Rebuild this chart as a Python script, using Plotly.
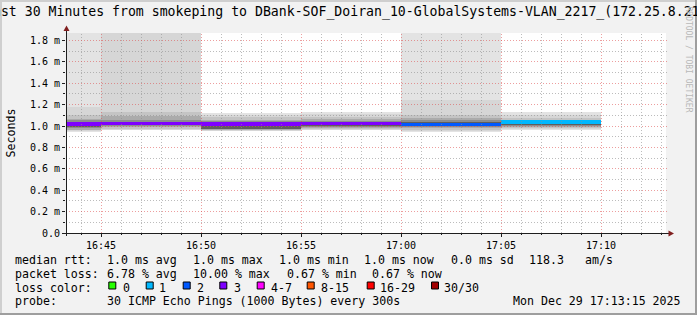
import plotly.graph_objects as go
from datetime import datetime, timedelta

# ---------------- data ----------------
segment_start = ["2025-12-29 16:40:00", "2025-12-29 16:45:00", "2025-12-29 16:50:00",
                 "2025-12-29 16:55:00", "2025-12-29 17:00:00", "2025-12-29 17:05:00"]
step_seconds = 300
median_rtt = [1.020, 1.027, 1.019, 1.021, 1.017, 1.037]   # ms
lost_pings = [3, 3, 3, 3, 2, 1]

# smoke bands (outer -> inner), ms
smoke1_low  = [0.942, 0.962, 0.955, 0.960, 0.945, 0.962]
smoke1_high = [3.000, 3.000, 1.125, 1.130, 3.000, 1.130]
smoke2_low  = [0.950, 0.966, 0.958, 0.966, 0.955, 0.968]
smoke2_high = [1.175, 3.000, 1.100, 1.110, 1.240, 1.100]
smoke3_low  = [0.960, 0.975, 0.962, 0.975, 0.965, 0.978]
smoke3_high = [1.100, 1.130, 1.080, 1.085, 1.100, 1.075]
smoke4_low  = [0.966, 0.988, 0.965, 0.985, 0.978, 0.990]
smoke4_high = [1.062, 1.090, 1.060, 1.065, 1.075, 1.060]
smoke5_low  = [0.985, 0.998, 0.968, 0.993, 0.988, 0.998]
smoke5_high = [1.053, 1.055, 1.045, 1.050, 1.055, 1.050]
smoke6_low  = [0.992, 1.008, 0.975, 1.000, 0.998, 1.006]
smoke6_high = [1.040, 1.042, 1.032, 1.036, 1.040, 1.046]

x_range = ["2025-12-29 16:43:15", "2025-12-29 17:13:15"]
x_tick_times = ["2025-12-29 16:45", "2025-12-29 16:50", "2025-12-29 16:55",
                "2025-12-29 17:00", "2025-12-29 17:05", "2025-12-29 17:10"]
x_tick_labels = ["16:45", "16:50", "16:55", "17:00", "17:05", "17:10"]
y_tick_values = [0.0, 0.2, 0.4, 0.6, 0.8, 1.0, 1.2, 1.4, 1.6, 1.8]
y_tick_labels = ["0.0", "0.2 m", "0.4 m", "0.6 m", "0.8 m", "1.0 m", "1.2 m", "1.4 m", "1.6 m", "1.8 m"]

loss_labels = ["0", "1", "2", "3", "4-7", "8-15", "16-29", "30/30"]
loss_colors = ["#26ff00", "#00b8ff", "#0059ff", "#7e00ff", "#ff00ff", "#ff5500", "#ff0000", "#a10000"]
loss_min = [0, 1, 2, 3, 4, 8, 16, 30]

title_text = "Last 30 Minutes from smokeping to DBank-SOF_Doiran_10-GlobalSystems-VLAN_2217_(172.25.8.21)"
rtt_row = ["median rtt:", "1.0 ms avg", "1.0 ms max", "1.0 ms min", "1.0 ms now", "0.0 ms sd", "118.3", "am/s"]
loss_row = ["packet loss:", "6.78 % avg", "10.00 % max", "0.67 % min", "0.67 % now"]
probe_row = ["probe:", "30 ICMP Echo Pings (1000 Bytes) every 300s"]
date_text = "Mon Dec 29 17:13:15 2025"

# ---------------- style / layout ----------------
W, H = 697, 315
ML, MR, MT, MB = 66, 31, 33, 82
PW, PH = W - ML - MR, H - MT - MB
Y_MAX = 1.870
MONO = "DejaVu Sans Mono"
SMOKE_COLORS = ["#e3e3e3", "#d6d6d6", "#c4c4c4", "#ababab", "#8c8c8c", "#5e5e5e"]
MEDIAN_W = 0.030
AXIS_COL = "#1f1f1f"
ARROW_COL = "#801f1f"


def pxx(px):
    return (px - ML) / PW


def pxy(py):
    return (MT + PH - py) / PH


def loss_color(n):
    idx = 0
    for i, m in enumerate(loss_min):
        if n >= m:
            idx = i
    return loss_colors[idx]


fig = go.Figure()
step_ms = step_seconds * 1000
bands = [(smoke1_low, smoke1_high), (smoke2_low, smoke2_high), (smoke3_low, smoke3_high),
         (smoke4_low, smoke4_high), (smoke5_low, smoke5_high), (smoke6_low, smoke6_high)]
for (lo, hi), col in zip(bands, SMOKE_COLORS):
    fig.add_trace(go.Bar(
        x=segment_start, base=lo, y=[h - l for l, h in zip(lo, hi)],
        width=[step_ms] * len(segment_start), offset=0,
        marker=dict(color=col, line=dict(width=0)), hoverinfo="skip", showlegend=False))

fig.add_trace(go.Bar(
    x=segment_start, base=[m - MEDIAN_W / 2 for m in median_rtt], y=[MEDIAN_W] * len(median_rtt),
    width=[step_ms] * len(segment_start), offset=0,
    marker=dict(color=[loss_color(n) for n in lost_pings], line=dict(width=0)),
    hoverinfo="skip", showlegend=False))

shapes = []
# grid (rrdtool draws it over the graph)
t0 = datetime.strptime(x_range[0], "%Y-%m-%d %H:%M:%S")
t1 = datetime.strptime(x_range[1], "%Y-%m-%d %H:%M:%S")
px_per_min = PW / ((t1 - t0).total_seconds() / 60)
major_times = [datetime.strptime(t, "%Y-%m-%d %H:%M") for t in x_tick_times]
t = t0.replace(second=0) + timedelta(minutes=1)
while t < t1:
    px = int(ML + (t - t0).total_seconds() / 60 * px_per_min) + 0.5
    major = t in major_times
    shapes.append(dict(type="line", xref="paper", yref="paper", x0=pxx(px), x1=pxx(px), y0=0, y1=1,
                       line=dict(color="rgba(222,79,79,0.55)" if major else "rgba(143,143,143,0.6)",
                                 width=1, dash="1px,2px"), layer="above"))
    t += timedelta(minutes=1)
k = PH / Y_MAX
for i in range(1, 19):
    v = i * 0.1
    py = int(MT + PH - v * k) + 0.5
    major = (i % 2 == 0)
    shapes.append(dict(type="line", xref="paper", yref="paper", x0=0, x1=pxx(669), y0=pxy(py), y1=pxy(py),
                       line=dict(color="rgba(222,79,79,0.55)" if major else "rgba(143,143,143,0.6)",
                                 width=1, dash="1px,2px"), layer="above"))
# axes with arrows
shapes.append(dict(type="line", xref="paper", yref="paper", x0=pxx(63), x1=pxx(669), y0=pxy(233.5), y1=pxy(233.5),
                   line=dict(color=AXIS_COL, width=1), layer="above"))
shapes.append(dict(type="line", xref="paper", yref="paper", x0=pxx(66.5), x1=pxx(66.5), y0=pxy(236), y1=pxy(30),
                   line=dict(color=AXIS_COL, width=1), layer="above"))


def tri(pts):
    d = "M " + " L ".join(f"{pxx(x)},{pxy(y)}" for x, y in pts) + " Z"
    return dict(type="path", xref="paper", yref="paper", path=d, fillcolor=ARROW_COL,
                line=dict(width=0), layer="above")


shapes.append(tri([(668.5, 230.5), (668.5, 236.5), (674, 233.5)]))
shapes.append(tri([(63.5, 31), (69.5, 31), (66.5, 25.5)]))
# frame shading
shapes += [
    dict(type="rect", xref="paper", yref="paper", x0=pxx(0), x1=pxx(W), y0=pxy(0), y1=pxy(2),
         fillcolor="#cfcfcf", line=dict(width=0), layer="below"),
    dict(type="rect", xref="paper", yref="paper", x0=pxx(0), x1=pxx(2), y0=pxy(0), y1=pxy(H),
         fillcolor="#cfcfcf", line=dict(width=0), layer="below"),
    dict(type="rect", xref="paper", yref="paper", x0=pxx(695), x1=pxx(W), y0=pxy(0), y1=pxy(H),
         fillcolor="#9e9e9e", line=dict(width=0), layer="below"),
    dict(type="rect", xref="paper", yref="paper", x0=pxx(0), x1=pxx(W), y0=pxy(313), y1=pxy(H),
         fillcolor="#9e9e9e", line=dict(width=0), layer="below"),
]

annotations = []


def ann(text, px, py, size=11.6, xanchor="left", angle=0, color="#000000"):
    annotations.append(dict(text=text, x=pxx(px), y=pxy(py), xref="paper", yref="paper",
                            xanchor=xanchor, yanchor="middle", showarrow=False, textangle=angle,
                            borderpad=0, borderwidth=0,
                            font=dict(family=MONO, size=size, color=color)))


ann(title_text, -14.9, 11.5, size=13.2)
ann("Seconds", 10.5, 133, size=11.6, xanchor="center", angle=-90)
ann("RRDTOOL / TOBI OETIKER", 688, 59.5, size=8, xanchor="center", angle=90, color="#b8b8b8")

rtt_x = [16, 107.3, 194, 279.3, 365, 451.7, 530, 586]
for txt, x in zip(rtt_row, rtt_x):
    ann(txt, x - 0.7, 259.5)
loss_x = [16, 107.3, 194, 287.3, 372.7]
for txt, x in zip(loss_row, loss_x):
    ann(txt, x - 0.7, 273.5)
ann("loss color:", 15.3, 287.5)
box_x = [108.3, 145.7, 182.7, 219.3, 256.7, 306.7, 366.7, 431]
lab_x = [123.3, 160, 197.3, 235, 271.7, 321.7, 380.7, 445]
for lab, col, bx, lx in zip(loss_labels, loss_colors, box_x, lab_x):
    shapes.append(dict(type="rect", xref="paper", yref="paper", x0=pxx(bx + 0.5), x1=pxx(bx + 7.5),
                       y0=pxy(282), y1=pxy(289), fillcolor=col, line=dict(color="#000000", width=1),
                       layer="above"))
    ann(lab, lx - 0.7, 287.5)
ann(probe_row[0], 15.3, 301)
ann(probe_row[1], 106.6, 301)
ann(date_text, 680.5, 301, xanchor="right")

fig.update_layout(
    width=W, height=H, margin=dict(l=ML, r=MR, t=MT, b=MB, pad=0),
    paper_bgcolor="#f2f2f2", plot_bgcolor="#ffffff",
    barmode="overlay", bargap=0, showlegend=False,
    font=dict(family=MONO, size=10, color="#000000"),
    shapes=shapes, annotations=annotations,
    xaxis=dict(type="date", range=x_range, tickvals=x_tick_times, ticktext=x_tick_labels,
               ticks="outside", ticklen=3, tickcolor=AXIS_COL, tickwidth=1,
               showgrid=False, zeroline=False, showline=False, automargin=False,
               tickfont=dict(family=MONO, size=10, color="#000000"),
               minor=dict(ticks="outside", ticklen=1, tickcolor=AXIS_COL, dtick=60000, showgrid=False)),
    yaxis=dict(range=[0, Y_MAX], tickvals=y_tick_values, ticktext=y_tick_labels,
               ticks="outside", ticklen=3, tickcolor=AXIS_COL, tickwidth=1,
               showgrid=False, zeroline=False, showline=False, automargin=False,
               tickfont=dict(family=MONO, size=10, color="#000000"),
               minor=dict(ticks="outside", ticklen=2, tickcolor=AXIS_COL, dtick=0.1, showgrid=False)),
)

fig.write_html("out.html")
